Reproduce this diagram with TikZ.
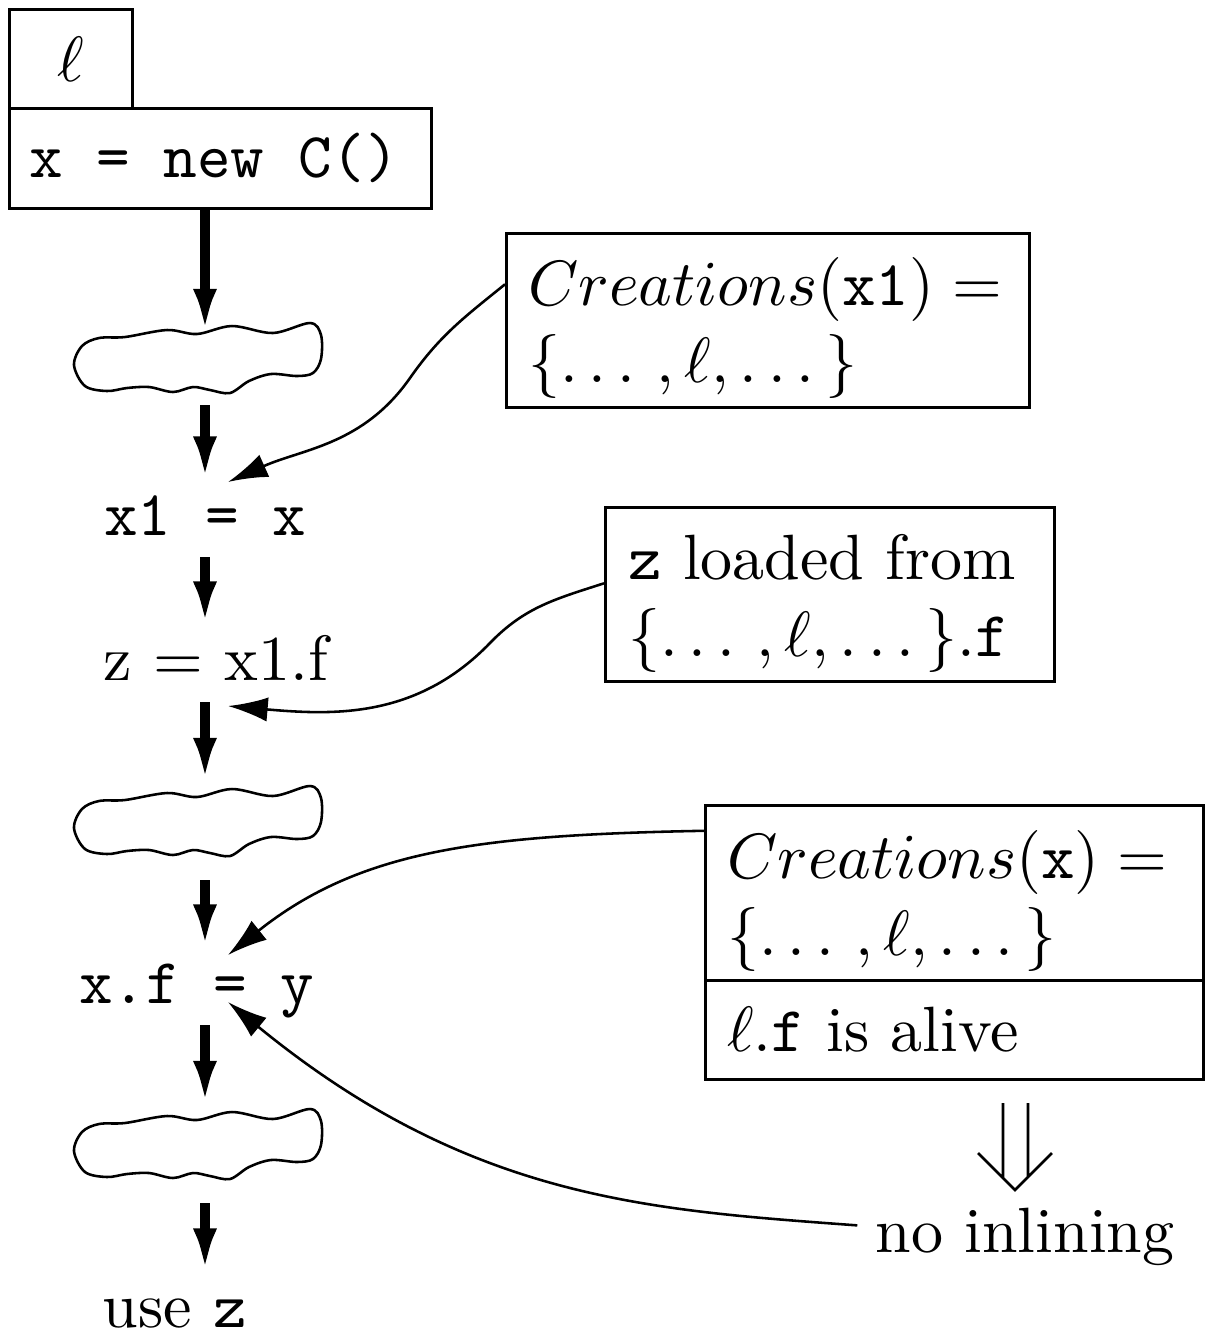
\documentclass[tikz,border=0pt]{standalone}
\usetikzlibrary{arrows.meta,calc}
\newcommand\px{0.15625pt}
\newcommand\mydots{\mathinner{\mbox{.\kern1.666pt.\kern1.666pt.\kern1.666pt}}}
\newcommand\topstrut{\rule{0pt}{10pt}}
\begin{document}
\begin{tikzpicture}[x=0.15625pt,y=-0.15625pt,
  box/.style={draw, line width=0.4pt, inner sep=0pt, anchor=north west},
  stmt/.style={inner xsep=0pt, inner ysep=1.8pt, text height=6.5pt, text depth=1.5pt, anchor=base},
  flow/.style={line width=1.6pt, -{Latex[length=6.9pt,width=3.7pt]}},
  note/.style={line width=0.4pt, -{Latex[length=6.2pt,width=3.8pt]}},
  cloudmark/.style={inner sep=0pt, minimum width=249*\px, minimum height=72*\px},
  cloudshape/.pic={\draw[line width=0.4pt] plot[smooth cycle, tension=0.55] coordinates {
    (-123,6) (-115,-13) (-98,-21) (-72,-22) (-30,-29) (0,-25) (35,-33) (76,-26)
    (113,-36) (124,-24) (124,0) (116,14) (100,17) (74,15) (52,22) (33,34) (13,31)
    (-4,28) (-24,33) (-48,28) (-70,29) (-90,32) (-112,27)};}
]
\useasboundingbox (0,0) rectangle (1209,1332);
\coordinate (spine) at (205,0);

% label box and allocation
\node[box, minimum width=123*\px, minimum height=99*\px] (lab) at (8,8) {$\ell$};
\node[box, minimum width=422*\px, minimum height=100*\px, inner xsep=20*\px]
      (new) at (8,107) {\makebox[59.6875pt][l]{\texttt{x = new C()}}};

% clouds
\node[cloudmark] (c1) at (197,359) {};
\node[cloudmark] (c2) at (197,822) {};
\node[cloudmark] (c3) at (197,1145) {};
\pic at (c1) {cloudshape};
\pic at (c2) {cloudshape};
\pic at (c3) {cloudshape};

% statements
\node[stmt] (s1) at (205,535) {\texttt{x1 = x}};
\node[stmt] (s2) at (216,680) {z = x1.f};
\node[stmt] (s3) at (197,1003) {\texttt{x.f = y}};
\node[stmt] (s4) at (175,1327) {use \texttt{z}};

% flow arrows
\draw[flow] (new.south -| spine) -- ($(c1)+(8,-26)$);
\draw[flow] ($(c1)+(8,46)$) -- (s1.north -| spine);
\draw[flow] (s1.south -| spine) -- (s2.north -| spine);
\draw[flow] (s2.south -| spine) -- ($(c2)+(8,-40)$);
\draw[flow] ($(c2)+(8,58)$) -- (s3.north -| spine);
\draw[flow] (s3.south -| spine) -- ($(c3)+(8,-40)$);
\draw[flow] ($(c3)+(8,58)$) -- (s4.north -| spine);

% annotation boxes
\node[box, minimum width=523*\px, minimum height=174*\px, inner xsep=22*\px,
      text width=(523-44)*\px, align=flush left] (nA) at (505,232)
      {\topstrut$Creations(\mathtt{x1}) =$\\ $\{\mydots,\ell,\mydots\}$};
\node[box, minimum width=449*\px, minimum height=174*\px, inner xsep=23*\px,
      text width=(449-46)*\px, align=flush left] (nB) at (604,506)
      {\topstrut\texttt{z} loaded from\\ $\{\mydots,\ell,\mydots\}$.\texttt{f}};
\node[box, minimum width=498*\px, minimum height=175*\px, inner xsep=22*\px,
      text width=(498-44)*\px, align=flush left] (nC) at (704,804)
      {\topstrut$Creations(\mathtt{x}) =$\\ $\{\mydots,\ell,\mydots\}$};
\node[box, minimum width=498*\px, minimum height=99*\px, inner xsep=22*\px,
      text width=(498-44)*\px, align=flush left] (nD) at (704,979)
      {$\ell$.\texttt{f} is alive};

\node[anchor=base, inner sep=17*\px] (ni) at (1025,1252) {no inlining};

% implication arrow
\draw[line width=0.4pt] (1003,1103) -- (1003,1178) (1028,1103) -- (1028,1177)
  (978,1153) -- (1015,1190) -- (1052,1153);

% connector arrows
\coordinate (t1) at (228,482);
\coordinate (t2) at (228,706);
\coordinate (t3) at (228,955);
\coordinate (t4) at (228,1002);
\draw[note] ($(nA.west)+(0,-36)$) to[out=219,in=55] (410,378) to[out=235,in=24] (t1);
\draw[note] ($(nB.west)+(0,-11)$) to[out=198,in=46] (490,643) to[out=226,in=-5] (t2);
\draw[note] ($(nC.west)+(0,-62)$) .. controls (480,835) and (360,850) .. (t3);
\draw[note] ($(ni.west)+(0,-11)$) .. controls (650,1210) and (470,1200) .. (t4);
\end{tikzpicture}
\end{document}
